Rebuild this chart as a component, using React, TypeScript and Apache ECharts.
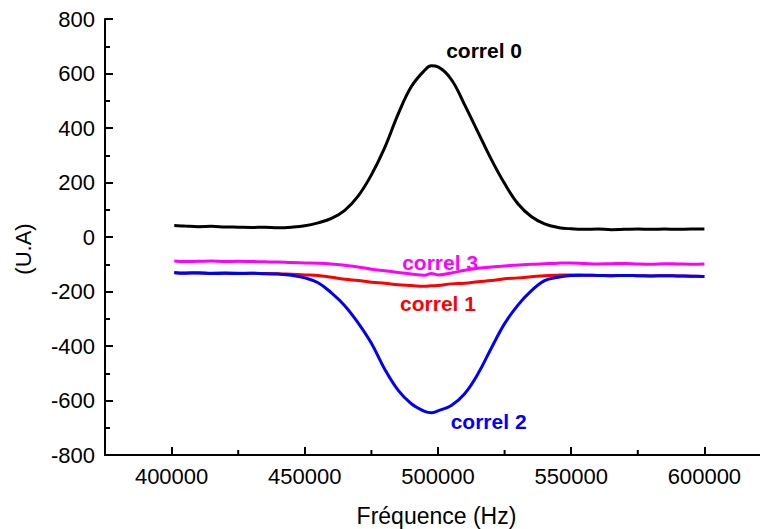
import React, { useEffect, useRef } from "react";
import * as echarts from "echarts";

const FONT = "'Liberation Sans', Arial, Helvetica, sans-serif";

const freq = [
  401000, 405000, 410000, 415000, 420000, 425000, 430000, 435000, 440000, 445000,
  450000, 455000, 460000, 465000, 470000, 475000, 480000, 485000, 490000, 495000,
  497500, 500000, 505000, 510000, 515000, 520000, 525000, 530000, 535000, 540000,
  545000, 550000, 555000, 560000, 565000, 570000, 575000, 580000, 585000, 590000,
  595000, 600000,
];

const correl0 = [
  42, 40, 38, 39, 37, 36, 35, 36, 34, 36,
  41, 52, 68, 98, 150, 228, 328, 450, 552, 612,
  628, 624, 578, 485, 385, 285, 196, 122, 75, 48,
  35, 30, 28, 29, 27, 28, 29, 28, 29, 28,
  29, 29,
];

const correl1 = [
  -130, -132, -131, -133, -132, -133, -133, -134, -135, -137,
  -139, -141, -148, -155, -160, -166, -170, -175, -178, -181,
  -179, -178, -172, -170, -164, -160, -153, -150, -146, -142,
  -140, -139, -140, -141, -142, -141, -142, -143, -142, -143,
  -144, -145,
];

const correl2 = [
  -131, -133, -132, -134, -133, -134, -133, -135, -136, -140,
  -150, -168, -205, -252, -315, -390, -485, -562, -612, -640,
  -645, -638, -618, -575, -502, -408, -318, -250, -198, -160,
  -148, -141, -140, -141, -142, -141, -142, -143, -142, -143,
  -144, -145,
];

const correl3 = [
  -88, -90, -89, -88, -90, -89, -90, -91, -92, -94,
  -95, -96, -99, -104, -110, -118, -124, -130, -136, -140,
  -134, -139, -132, -122, -115, -110, -106, -103, -100, -98,
  -96, -95, -97, -99, -98, -97, -99, -100, -98, -99,
  -100, -99,
];

const seriesNames = ["correl 0", "correl 1", "correl 2", "correl 3"];
const seriesColors = ["#000000", "#ff0000", "#0000ff", "#ff00ff"];
// label anchor positions in data units [frequency, value]
const labelPos: [number, number][] = [
  [517300, 685],
  [500000, -243],
  [519000, -676],
  [500800, -95],
];

const X_MIN = 375000;
const X_MAX = 625000;
const Y_MIN = -800;
const Y_MAX = 800;
const xTickValues = [400000, 450000, 500000, 550000, 600000];
const xMinorTickValues = [425000, 475000, 525000, 575000];

const App: React.FC = () => {
  const ref = useRef<HTMLDivElement>(null);

  useEffect(() => {
    if (!ref.current) return;
    const chart = echarts.init(ref.current, undefined, { renderer: "svg" });
    const values = [correl0, correl1, correl2, correl3];
    const order = [0, 3, 1, 2];
    const series: any[] = order.map((i) => ({
      name: seriesNames[i],
      type: "line",
      data: freq.map((f, k) => [f, values[i][k]]),
      showSymbol: false,
      symbol: "none",
      smooth: 0.4,
      lineStyle: { color: seriesColors[i], width: 3 },
      silent: true,
      markPoint: {
        symbol: "circle",
        symbolSize: 0,
        silent: true,
        label: {
          show: true,
          position: "inside",
          formatter: seriesNames[i],
          color: seriesColors[i],
          fontFamily: FONT,
          fontWeight: "bold",
          fontSize: 21,
        },
        data: [{ coord: labelPos[i] }],
      },
    }));
    // minor ticks of the x axis, placed through the axis scale
    series.push({
      type: "custom",
      silent: true,
      clip: false,
      z: 10,
      data: xMinorTickValues.map((v) => [v, Y_MIN]),
      renderItem: (_params: any, api: any) => {
        const p = api.coord([api.value(0), api.value(1)]);
        return {
          type: "line",
          shape: { x1: p[0], y1: p[1], x2: p[0], y2: p[1] - 5 },
          style: { stroke: "#000", lineWidth: 2 },
        };
      },
    });

    const axisLineStyle = { color: "#000", width: 2 };
    chart.setOption({
      animation: false,
      backgroundColor: "#ffffff",
      grid: { left: 105, right: 9, top: 19, bottom: 74, containLabel: false },
      xAxis: {
        type: "value",
        min: X_MIN,
        max: X_MAX,
        axisLine: { show: true, onZero: false, lineStyle: axisLineStyle },
        axisTick: {
          show: true,
          inside: true,
          length: 8,
          lineStyle: axisLineStyle,
          customValues: xTickValues,
        },
        axisLabel: {
          show: true,
          customValues: xTickValues,
          formatter: (v: number) => String(v),
          margin: 10,
          color: "#000",
          fontFamily: FONT,
          fontSize: 22,
        },
        splitLine: { show: false },
      },
      yAxis: {
        type: "value",
        min: Y_MIN,
        max: Y_MAX,
        interval: 200,
        axisLine: { show: true, onZero: false, lineStyle: axisLineStyle },
        axisTick: { show: true, inside: true, length: 8, lineStyle: axisLineStyle },
        minorTick: { show: true, splitNumber: 2, length: 5, lineStyle: axisLineStyle },
        axisLabel: {
          margin: 10,
          color: "#000",
          fontFamily: FONT,
          fontSize: 22,
        },
        splitLine: { show: false },
        minorSplitLine: { show: false },
      },
      graphic: [
        {
          type: "text",
          x: 23.5,
          y: 249,
          rotation: Math.PI / 2,
          style: {
            text: "(U.A)",
            fill: "#000",
            font: `22px ${FONT}`,
            align: "center",
            verticalAlign: "middle",
          },
        },
        {
          type: "text",
          x: 436.5,
          y: 516,
          style: {
            text: "Fréquence (Hz)",
            fill: "#000",
            font: `23px ${FONT}`,
            align: "center",
            verticalAlign: "middle",
          },
        },
      ],
      series,
    });
    return () => chart.dispose();
  }, []);

  return (
    <div
      style={{
        position: "fixed",
        left: 0,
        top: 0,
        width: 760,
        height: 529,
        overflow: "hidden",
        background: "#fff",
      }}
    >
      <div ref={ref} style={{ width: 780, height: 529 }} />
    </div>
  );
};

export default App;
